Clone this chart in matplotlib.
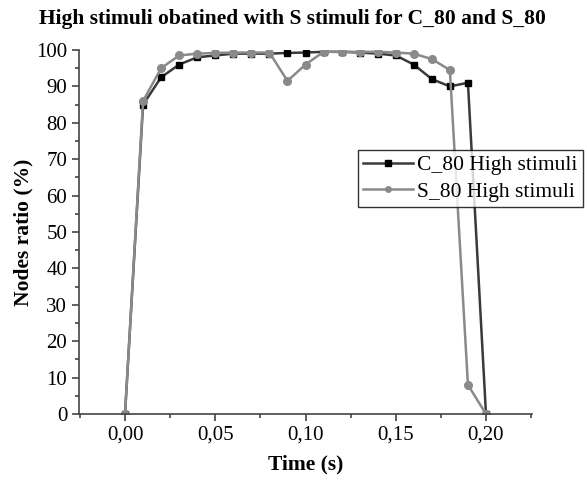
import matplotlib
matplotlib.use("Agg")
import matplotlib.pyplot as plt
from matplotlib.ticker import MultipleLocator, FuncFormatter

# data
time_s = [0.00, 0.01, 0.02, 0.03, 0.04, 0.05, 0.06, 0.07, 0.08, 0.09, 0.10,
          0.11, 0.12, 0.13, 0.14, 0.15, 0.16, 0.17, 0.18, 0.19, 0.20]
c80_high = [0, 85, 92.5, 96, 98, 98.5, 99, 99, 99, 99.2, 99.3,
            99.5, 99.5, 99.3, 99, 98.5, 96, 92, 90, 91, 0]
s80_high = [0, 86, 95, 98.5, 99, 99.2, 99.3, 99.3, 99.3, 91.5, 96,
            99.5, 99.5, 99.5, 99.5, 99.3, 99, 97.5, 94.5, 8, 0]

plt.rcParams['font.family'] = ['Liberation Serif', 'DejaVu Serif']

fig = plt.figure(figsize=(5.87, 4.82), dpi=100)
ax = fig.add_axes([79/587, 1 - 414/482, (532 - 79)/587, (414 - 50)/482])

ax.plot(time_s, c80_high, color='#3a3a3a', lw=1.8, marker='s', ms=5,
        mfc='black', mec='black', label='C_80 High stimuli')
ax.plot(time_s, s80_high, color='#8a8a8a', lw=1.8, marker='o', ms=5.5,
        mfc='#8a8a8a', mec='#8a8a8a', label='S_80 High stimuli')

ax.set_xlim(-0.0255, 0.2255)
ax.set_ylim(0, 100)
ax.xaxis.set_major_locator(MultipleLocator(0.05))
ax.xaxis.set_minor_locator(MultipleLocator(0.025))
ax.yaxis.set_major_locator(MultipleLocator(10))
ax.yaxis.set_minor_locator(MultipleLocator(5))
ax.xaxis.set_major_formatter(FuncFormatter(lambda v, p: f"{v:.2f}".replace('.', ',').replace('-0,00', '0,00')))

for s in ['top', 'right']:
    ax.spines[s].set_visible(False)
for s in ['left', 'bottom']:
    ax.spines[s].set_color('#444444')
    ax.spines[s].set_linewidth(1.2)
ax.tick_params(which='major', direction='out', length=5, width=1.2, color='#444444', labelsize=15)
ax.tick_params(which='minor', direction='out', length=3, width=1.2, color='#444444')

ax.set_xlabel('Time (s)', fontsize=15.5, fontweight='bold', labelpad=7)
ax.set_ylabel('Nodes ratio (%)', fontsize=15.5, fontweight='bold', labelpad=2)
fig.text(292/587, 1 - 19/482, 'High stimuli obatined with S stimuli for C_80 and S_80',
         fontsize=15.5, fontweight='bold', ha='center', va='center')

leg = ax.legend(loc='upper left', bbox_to_anchor=(358/587, 1 - 150/482),
                bbox_transform=fig.transFigure, fontsize=15.5, frameon=True,
                fancybox=False, edgecolor='black', handlelength=2.3,
                borderpad=0.25, labelspacing=0.3, handletextpad=0.2,
                borderaxespad=0)
leg.get_frame().set_linewidth(1.0)
for h in leg.legend_handles:
    h.set_markersize(4)

fig.savefig('out.png', dpi=100)
